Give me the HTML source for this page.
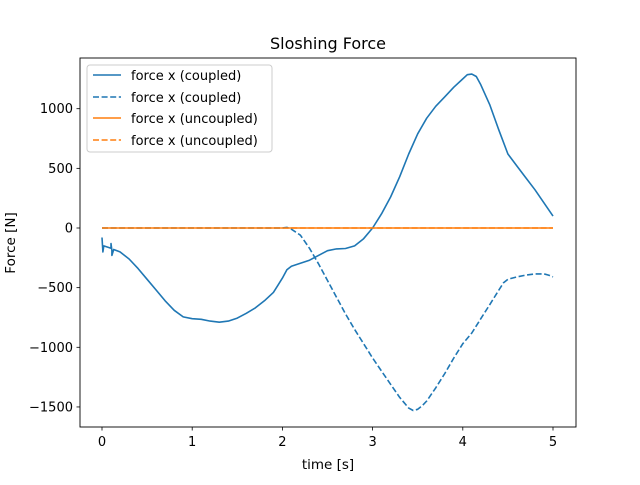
<!DOCTYPE html>
<html><head><meta charset="utf-8"><style>
body{margin:0;background:#fff;}
svg{font-family:"DejaVu Sans","Liberation Sans",sans-serif;}
</style></head><body>
<svg id="c" width="640" height="480" viewBox="0 0 640 480">
<rect width="640" height="480" fill="#fff"/>
<text x="328" y="49" text-anchor="middle" font-size="16">Sloshing Force</text>
<g id="plot"></g>
<rect x="80" y="58" width="496" height="369" fill="none" stroke="#000" stroke-width="0.9"/>
<text x="328" y="469" text-anchor="middle" font-size="13.5">time [s]</text>
<text transform="translate(15,243) rotate(-90)" text-anchor="middle" font-size="13.5">Force [N]</text>
<g>
<rect x="87" y="65" width="185" height="87" fill="#fff" fill-opacity="0.8" stroke="#ccc" rx="3"/>
<g><line x1="93" y1="75" x2="121" y2="75" stroke="#1f77b4" stroke-width="1.6"/><text x="131" y="80" font-size="13">force x (coupled)</text></g>
<g><line x1="93" y1="97" x2="121" y2="97" stroke="#1f77b4" stroke-width="1.6" stroke-dasharray="6,2.6"/><text x="131" y="102" font-size="13">force x (coupled)</text></g>
<g><line x1="93" y1="118" x2="121" y2="118" stroke="#ff7f0e" stroke-width="1.6"/><text x="131" y="123" font-size="13">force x (uncoupled)</text></g>
<g><line x1="93" y1="140" x2="121" y2="140" stroke="#ff7f0e" stroke-width="1.6" stroke-dasharray="6,2.6"/><text x="131" y="145" font-size="13">force x (uncoupled)</text></g>
</g>
</svg>
<script>
const xTicks=[0,1,2,3,4,5];
const yTicks=[-1500,-1000,-500,0,500,1000];
const coupledSolidT=[0,0.01,0.02,0.1,0.1,0.11,0.11,0.13,0.2,0.3,0.4,0.5,0.6,0.7,0.8,0.9,1.0,1.1,1.2,1.3,1.4,1.5,1.6,1.7,1.8,1.9,1.95,2.0,2.05,2.1,2.2,2.3,2.4,2.5,2.6,2.7,2.8,2.9,3.0,3.1,3.2,3.3,3.4,3.5,3.6,3.7,3.8,3.9,4.0,4.05,4.1,4.15,4.2,4.3,4.4,4.5,4.6,4.7,4.8,4.9,5.0];
const coupledSolidF=[-80,-200,-150,-170,-130,-190,-230,-180,-200,-260,-340,-430,-520,-610,-690,-745,-760,-765,-780,-790,-780,-755,-715,-670,-610,-540,-480,-420,-350,-320,-295,-270,-230,-190,-175,-172,-150,-90,0,120,260,430,620,790,920,1020,1100,1180,1250,1285,1290,1270,1200,1030,820,620,520,420,320,210,100];
const coupledDashT=[0,0.2,1.0,2.0,2.05,2.1,2.2,2.3,2.4,2.5,2.6,2.7,2.8,2.9,3.0,3.1,3.2,3.3,3.4,3.45,3.5,3.55,3.6,3.7,3.8,3.9,4.0,4.1,4.2,4.3,4.4,4.45,4.5,4.6,4.7,4.8,4.9,4.95,5.0];
const coupledDashF=[0,0,0,0,5,-10,-60,-170,-300,-440,-580,-720,-850,-970,-1090,-1200,-1310,-1420,-1510,-1530,-1520,-1490,-1450,-1340,-1220,-1090,-970,-880,-760,-640,-520,-460,-430,-410,-395,-385,-385,-395,-410];
const uncoupledT=[0,5];
const uncoupledSolidF=[0,0];
const uncoupledDashF=[0,0];
const NS='http://www.w3.org/2000/svg';
function sx(t){return 102+t*90.2;}
function sy(v){return 228-v*0.1193;}
const svg=document.getElementById('c'), g=document.getElementById('plot');
function mk(tag,attrs,parent){const e=document.createElementNS(NS,tag);for(const k in attrs)e.setAttribute(k,attrs[k]);(parent||g).appendChild(e);return e;}
xTicks.forEach(t=>{
 const l=mk('line',{x1:sx(t),x2:sx(t),y1:427,y2:430.5,stroke:'#000','stroke-width':0.8},svg);
 
 
 const tx=mk('text',{x:sx(t),y:446,'text-anchor':'middle','font-size':13},svg);tx.textContent=t;
 
 
});
yTicks.forEach(v=>{
 const l=mk('line',{x1:76.5,x2:80,y1:sy(v),y2:sy(v),stroke:'#000','stroke-width':0.8},svg);
 
 
 const tx=mk('text',{x:73,y:sy(v)+4.5,'text-anchor':'end','font-size':13},svg);tx.textContent=v<0?'\u2212'+(-v):v;
 
 
});
function line(ts,vs,color,dash,name){
 const d=ts.map((t,i)=>(i?'L':'M')+sx(t).toFixed(1)+','+sy(vs[i]).toFixed(1)).join('');
 const p=mk('path',{d:d,fill:'none',stroke:color,'stroke-width':1.6,'stroke-linejoin':'round'});
 if(dash)p.setAttribute('stroke-dasharray','6,2.6');
 
 
}
line(uncoupledT,uncoupledDashF,'#ff7f0e',true,'uncoupled-dashed-line');
line(coupledDashT,coupledDashF,'#1f77b4',true,'coupled-dashed-line');
line(coupledSolidT,coupledSolidF,'#1f77b4',false,'coupled-solid-line');
line(uncoupledT,uncoupledSolidF,'#ff7f0e',false,'uncoupled-solid-line');
</script>
</body></html>
